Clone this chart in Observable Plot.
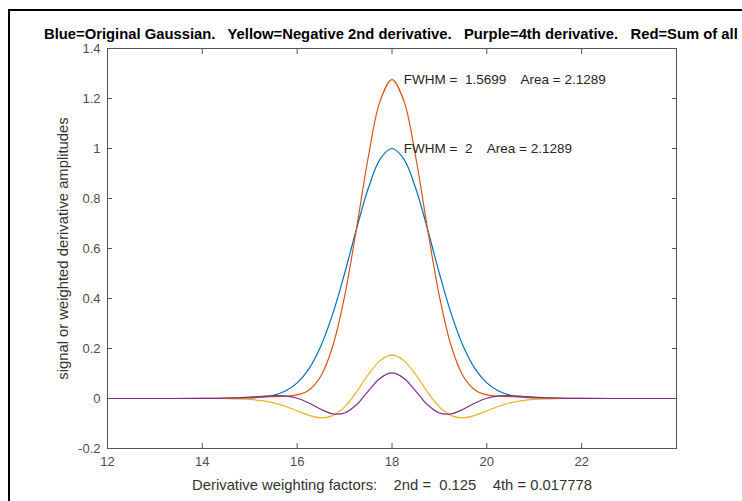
<!DOCTYPE html>
<html>
<head>
<meta charset="utf-8">
<script src="https://cdn.jsdelivr.net/npm/d3@7"></script>
<script src="https://cdn.jsdelivr.net/npm/@observablehq/plot@0.6"></script>
<style>
  html, body { margin: 0; padding: 0; background: #fff; overflow: hidden; }
  #wrap { position: relative; width: 742px; height: 501px; overflow: hidden; background: #fff; }
  #border { position: absolute; left: 8px; top: 9px; width: 800px; height: 600px; border: 2px solid #000; box-sizing: border-box; }
  #title { position: absolute; left: 44px; top: 26px; font: bold 14.8px "Liberation Sans", Arial, sans-serif; line-height: 17px; white-space: pre; color: #000; }
  #chart { position: absolute; left: 0; top: 0; }
  #chart svg text { white-space: pre; }
</style>
</head>
<body>
<div id="wrap">
  <div id="border"></div>
  <div id="chart"></div>
  <div id="title">Blue=Original Gaussian.   Yellow=Negative 2nd derivative.   Purple=4th derivative.   Red=Sum of all</div>
</div>
<script>
// x positions (signal axis)
const xs = [12, 13, 14, 14.5, 15, 15.25, 15.5, 15.75, 16, 16.25, 16.5, 16.75, 17, 17.25, 17.5, 17.75,
            18, 18.25, 18.5, 18.75, 19, 19.25, 19.5, 19.75, 20, 20.25, 20.5, 20.75, 21, 21.5, 22, 23, 24];
// Blue: original Gaussian
const gaussian = [0, 0, 0.0000153, 0.000205, 0.001953, 0.005292, 0.013139, 0.029925, 0.0625, 0.119704, 0.210224, 0.338564, 0.5, 0.677128, 0.840896, 0.957603,
                  1.0, 0.957603, 0.840896, 0.677128, 0.5, 0.338564, 0.210224, 0.119704, 0.0625, 0.029925, 0.013139, 0.005292, 0.001953, 0.000205, 0.0000153, 0, 0];
// Yellow: weighted negative 2nd derivative
const neg2nd = [0, 0, -0.000056, -0.000568, -0.003884, -0.008697, -0.01745, -0.031208, -0.049226, -0.067323, -0.0772, -0.068413, -0.03347, 0.025839, 0.095215, 0.151563,
                0.173287, 0.151563, 0.095215, 0.025839, -0.03347, -0.068413, -0.0772, -0.067323, -0.049226, -0.031208, -0.01745, -0.008697, -0.003884, -0.000568, -0.000056, 0, 0];
// Purple: weighted 4th derivative
const fourth = [0, 0, 0.000189, 0.001327, 0.005592, 0.009042, 0.011709, 0.010372, 0.00102, -0.018195, -0.042994, -0.06136, -0.058014, -0.02477, 0.029899, 0.081389,
                0.102498, 0.081389, 0.029899, -0.02477, -0.058014, -0.06136, -0.042994, -0.018195, 0.00102, 0.010372, 0.011709, 0.009042, 0.005592, 0.001327, 0.000189, 0, 0];
// Red: sum of all
const sumAll = [0, 0, 0.000148, 0.000964, 0.003661, 0.005637, 0.007398, 0.009089, 0.014294, 0.034186, 0.09003, 0.208791, 0.408516, 0.678197, 0.96601, 1.190555,
                1.275785, 1.190555, 0.96601, 0.678197, 0.408516, 0.208791, 0.09003, 0.034186, 0.014294, 0.009089, 0.007398, 0.005637, 0.003661, 0.000964, 0.000148, 0, 0];

const xTicks = [12, 14, 16, 18, 20, 22];
const yTicks = [-0.2, 0, 0.2, 0.4, 0.6, 0.8, 1, 1.2, 1.4];

const annX = [18.25, 18.25];
const annY = [1.2758, 1.0];
const annText = ["FWHM =  1.5699    Area = 2.1289", "FWHM =  2    Area = 2.1289"];

const seriesNames = ["gaussian", "sum", "neg2nd", "fourth"];
const seriesColors = ["#0072BD", "#D95319", "#EDB120", "#7E2F8E"];
const seriesValues = [gaussian, sumAll, neg2nd, fourth];

const rows = [];
seriesNames.forEach((name, i) => {
  xs.forEach((x, j) => rows.push({series: name, x, y: seriesValues[i][j]}));
});
const ann = annText.map((t, i) => ({x: annX[i], y: annY[i], text: t}));

const axisColor = "#555";
const tickText = "#4d4d4d";

const plot = Plot.plot({
  width: 742,
  height: 501,
  marginLeft: 107,
  marginRight: 66,
  marginTop: 48,
  marginBottom: 53,
  x: {domain: [12, 24]},
  y: {domain: [-0.2, 1.4]},
  color: {domain: seriesNames, range: seriesColors},
  style: {fontFamily: "'Liberation Sans', Arial, sans-serif", fontSize: "13px", background: "transparent", overflow: "visible"},
  marks: [
    Plot.frame({stroke: axisColor, strokeWidth: 1}),
    Plot.axisX({ticks: xTicks, tickSize: -5, tickPadding: 13, stroke: axisColor, color: tickText,
      tickFormat: d => String(d), fontSize: 13, label: null}),
    Plot.axisX({ticks: [], label: "Derivative weighting factors:    2nd =  0.125    4th = 0.017778",
      labelAnchor: "center", labelArrow: "none", labelOffset: 41, fontSize: 14.8, color: "#333"}),
    Plot.axisX({anchor: "top", ticks: xTicks, tickSize: -5, stroke: axisColor, tickFormat: () => "", label: null}),
    Plot.axisY({ticks: yTicks, tickSize: -5, tickPadding: 12, stroke: axisColor, color: tickText,
      tickFormat: d => String(d), fontSize: 13, label: null}),
    Plot.axisY({ticks: [], label: "signal or weighted derivative amplitudes",
      labelAnchor: "center", labelArrow: "none", labelOffset: 50, fontSize: 14.8, color: "#333"}),
    Plot.axisY({anchor: "right", ticks: yTicks, tickSize: -5, stroke: axisColor, tickFormat: () => "", label: null}),
    Plot.line(rows, {x: "x", y: "y", z: "series", stroke: "series", strokeWidth: 1.2, curve: "catmull-rom"}),
    Plot.text(ann, {x: "x", y: "y", text: "text", textAnchor: "start", lineAnchor: "middle", fill: "#262626", fontSize: 13.5})
  ]
});
document.getElementById("chart").appendChild(plot);
</script>
</body>
</html>
